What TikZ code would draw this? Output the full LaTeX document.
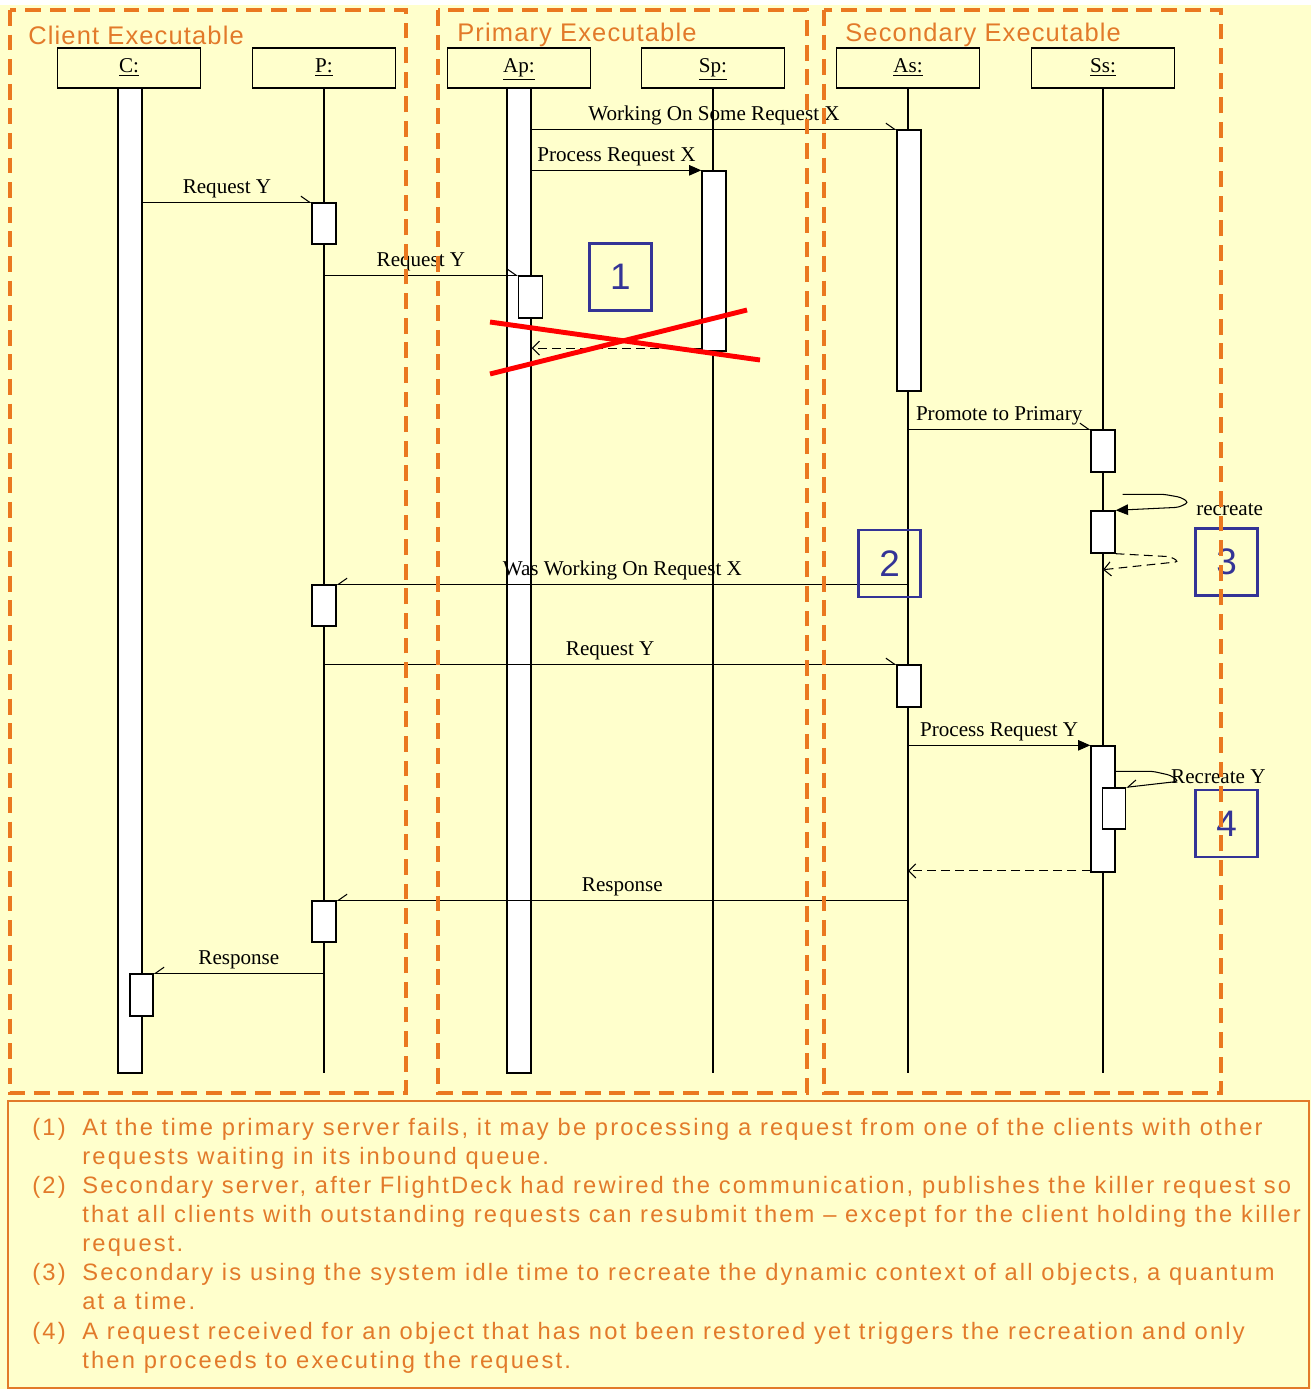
\documentclass[tikz,border=0pt]{standalone}
\usepackage{fontspec}
\setmainfont{Liberation Serif}
\setsansfont{Liberation Sans}
\newfontfamily\notefont[LetterSpace=9.2]{Liberation Sans}
\newfontfamily\grpfont[LetterSpace=4.5]{Liberation Sans}
\usetikzlibrary{arrows.meta}

\definecolor{bgyellow}{RGB}{255,255,204}
\definecolor{frameorange}{RGB}{234,120,32}
\definecolor{noteorange}{RGB}{226,122,42}
\definecolor{boxblue}{RGB}{52,52,150}

\tikzset{
  head/.style={draw, line width=0.8pt, fill=bgyellow, minimum width=2.86cm, minimum height=0.8cm, inner sep=0, text height=1.6ex, text depth=0.4ex, font=\fontsize{12}{14}\selectfont},
  bar/.style={draw, line width=0.8pt, fill=white, minimum width=0.48cm, inner sep=0},
  life/.style={line width=0.8pt},
  asyncr/.style={line width=0.6pt, -{Straight Barb[left,length=5pt,width=7pt]}},
  asyncl/.style={line width=0.6pt, -{Straight Barb[right,length=5pt,width=7pt]}},
  syncm/.style={line width=0.6pt, -{Triangle[length=7pt,width=6pt]}},
  reply/.style={line width=0.6pt, dash pattern=on 5pt off 3pt, -{Straight Barb[length=4pt,width=8pt]}},
  lbl/.style={above=1pt, inner sep=1pt, font=\fontsize{12}{14}\selectfont},
  frame/.style={draw=frameorange, line width=2.2pt, dash pattern=on 9pt off 5pt},
  grp/.style={anchor=west, text=noteorange, font=\grpfont\fontsize{14.5}{16}\selectfont, inner sep=0},
  numbox/.style={draw=boxblue, line width=1.6pt, minimum width=1.24cm, minimum height=1.34cm, text=boxblue, font=\sffamily\fontsize{21}{24}\selectfont, inner sep=0},
  note/.style={anchor=base west, text=noteorange, font=\notefont\fontsize{13.5}{16}\selectfont, inner sep=0},
  cross/.style={red, line width=2.8pt}
}

\begin{document}
\begin{tikzpicture}[x=0.02cm, y=-0.02cm]
\useasboundingbox (0,0) rectangle (1311,1389);
\fill[bgyellow] (0,5) rectangle (1311,1389);

% group titles
\node[grp] (tclient) at (28,35) {Client Executable};
\node[grp] (tprim) at (457,35) {Primary Executable};
\node[grp] (tsec) at (845,35) {Secondary Executable};

% lifeline heads
\node[head] (C) at (129,68) {\underline{C:}};
\node[head] (P) at (324,68) {\underline{P:}};
\node[head] (Ap) at (519,68) {\underline{Ap:}};
\node[head] (Sp) at (713,68) {\underline{Sp:}};
\node[head] (As) at (908,68) {\underline{As:}};
\node[head] (Ss) at (1103,68) {\underline{Ss:}};

\coordinate (Pend) at (324,1073);
\coordinate (Spend) at (713,1073);
\coordinate (Asend) at (908,1073);
\coordinate (Ssend) at (1103,1073);
\draw[life] (P) -- (Pend);
\draw[life] (Sp) -- (Spend);
\draw[life] (As) -- (Asend);
\draw[life] (Ss) -- (Ssend);

% activations
\node[bar, minimum height=19.7cm] (cbar) at (130,580.5) {};
\node[bar, minimum height=19.7cm] (apbar) at (519,580.5) {};
\node[bar, minimum height=0.82cm] (pa1) at (324,223.5) {};
\node[bar, minimum height=0.84cm] (apn) at (530.5,297) {};
\node[bar, minimum height=3.6cm] (spa) at (714,261) {};
\node[bar, minimum height=5.22cm] (asa1) at (909,260.5) {};
\node[bar, minimum height=0.84cm] (ssa1) at (1103,451) {};
\node[bar, minimum height=0.84cm] (ssa2) at (1103,532) {};
\node[bar, minimum height=0.82cm] (pa2) at (324,605.5) {};
\node[bar, minimum height=0.84cm] (asa2) at (909,686) {};
\node[bar, minimum height=2.52cm] (ssa3) at (1103,809) {};
\node[bar, minimum height=0.82cm, minimum width=0.46cm] (ssn) at (1114,808.5) {};
\node[bar, minimum height=0.82cm] (pa3) at (324,921.5) {};
\node[bar, minimum height=0.84cm, minimum width=0.46cm] (cn) at (141.5,995) {};

% messages
\draw[asyncr] (apbar.east |- asa1.north) -- node[lbl] {Working On Some Request X} (asa1.north west);
\draw[syncm] (apbar.east |- spa.north) -- node[lbl] {Process Request X} (spa.north west);
\draw[asyncr] (cbar.east |- pa1.north) -- node[lbl] {Request Y} (pa1.north west);
\draw[asyncr] (P |- apn.north) -- node[lbl] {Request Y} (apn.north west);
\draw[reply] ([yshift=2pt]spa.south west) -- ([yshift=2pt]apbar.east |- spa.south);
\draw[asyncr] (As |- ssa1.north) -- node[lbl] {Promote to Primary} (ssa1.north west);
\draw[line width=0.6pt, rounded corners=2pt, -{Triangle[length=7pt,width=6pt]}]
  ([shift={(7,-16)}]ssa2.north east) -- ++(41,0) -- ++(17,3) -- ++(8,5)
  node[anchor=west, xshift=4pt, yshift=-4pt, inner sep=0, font=\fontsize{12}{14}\selectfont] {recreate}
  -- ++(-10,5) -- (ssa2.north east);
\draw[reply, rounded corners=2pt] (ssa2.south east) -- ++(55,3) -- ++(8,5) -- ([shift={(0,16)}]ssa2.south);
\draw[asyncl] (As |- pa2.north) -- node[lbl] {Was Working On Request X} (pa2.north east);
\draw[asyncr] (P |- asa2.north) -- node[lbl] {Request Y} (asa2.north west);
\draw[syncm] (As |- ssa3.north) -- node[lbl] {Process Request Y} (ssa3.north west);
\draw[asyncl, rounded corners=2pt]
  ([shift={(0,26)}]ssa3.north east) -- ++(37,0) -- ++(18,4)
  node[anchor=west, xshift=0pt, yshift=-1pt, inner sep=0, font=\fontsize{12}{14}\selectfont] {Recreate Y}
  -- ++(8,6) -- (ssn.north east);
\draw[reply] ([yshift=1pt]ssa3.south west) -- ([yshift=1pt]As |- ssa3.south);
\draw[asyncl] (As |- pa3.north) -- node[lbl] {Response} (pa3.north east);
\draw[asyncl] (P |- cn.north) -- node[lbl] {Response} (cn.north east);

% failure of the primary
\draw[cross] (490,322) -- (760,360);
\draw[cross] (490,374) -- (747,310);

% numbered marks
\node[numbox] (m1) at (620.5,277) {1};
\node[numbox] (m2) at (889.5,563.5) {2};
\node[numbox] (m3) at (1226.5,562) {3};
\node[numbox] (m4) at (1226.5,823.5) {4};

% executables
\draw[frame] (10,10) rectangle (406,1093);
\draw[frame] (438,10) rectangle (807,1093);
\draw[frame] (824,10) rectangle (1221,1093);

% notes
\draw[noteorange, line width=0.8pt] (8,1101) rectangle (1309,1388);
\node[note] (k1) at (32,1135) {(1)};
\node[note] (n1a) at (82,1135) {At the time primary server fails, it may be processing a request from one of the clients with other};
\node[note] (n1b) at (82,1164) {requests waiting in its inbound queue.};
\node[note] (k2) at (32,1193) {(2)};
\node[note] (n2a) at (82,1193) {Secondary server, after FlightDeck had rewired the communication, publishes the killer request so};
\node[note] (n2b) at (82,1222) {that all clients with outstanding requests can resubmit them \textendash{} except for the client holding the killer};
\node[note] (n2c) at (82,1251) {request.};
\node[note] (k3) at (32,1280) {(3)};
\node[note] (n3a) at (82,1280) {Secondary is using the system idle time to recreate the dynamic context of all objects, a quantum};
\node[note] (n3b) at (82,1309) {at a time.};
\node[note] (k4) at (32,1339) {(4)};
\node[note] (n4a) at (82,1339) {A request received for an object that has not been restored yet triggers the recreation and only};
\node[note] (n4b) at (82,1368) {then proceeds to executing the request.};
\end{tikzpicture}
\end{document}
